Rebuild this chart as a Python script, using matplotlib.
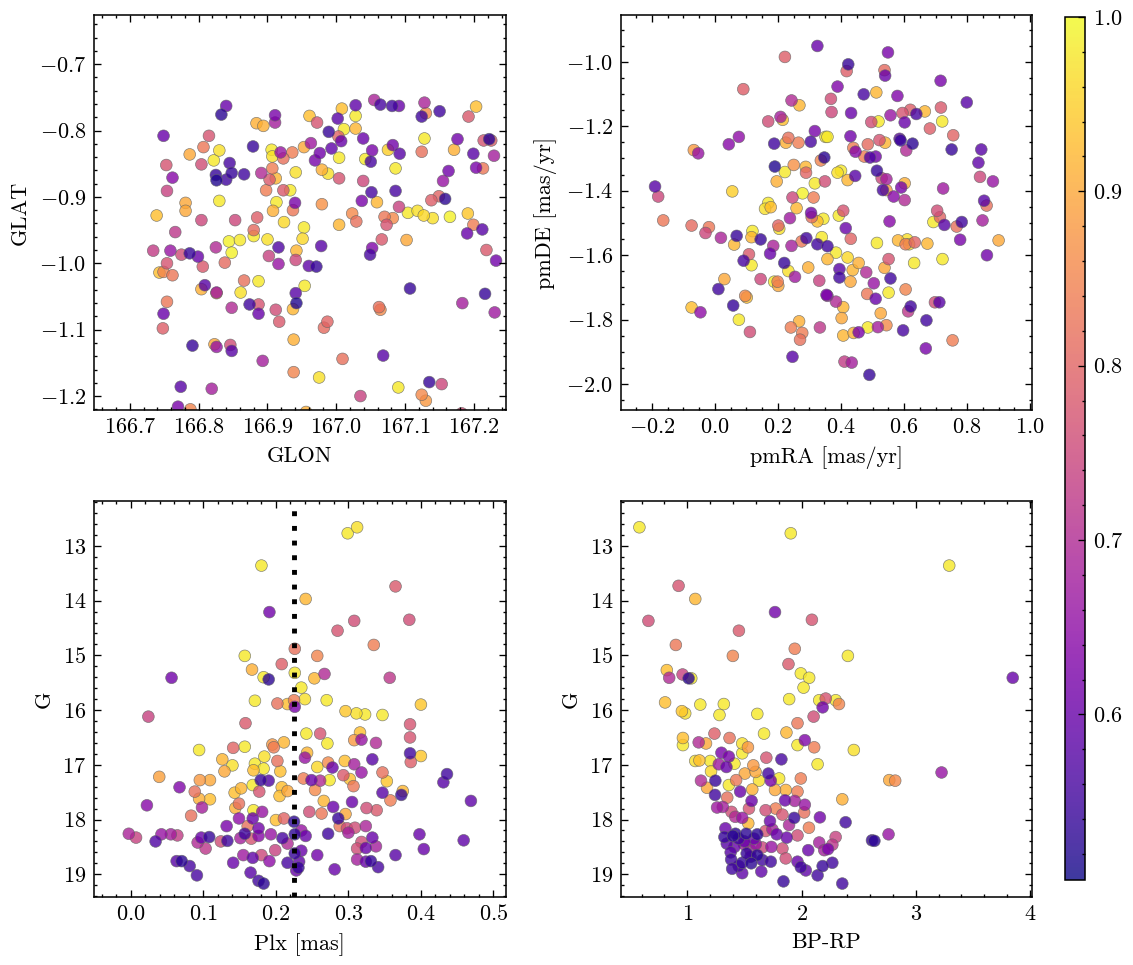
import numpy as np
import matplotlib
matplotlib.use("Agg")
import matplotlib.pyplot as plt
from matplotlib.ticker import MultipleLocator, AutoMinorLocator

plt.rcParams.update({
    "font.family": "serif",
    "font.serif": ["cmr10", "DejaVu Serif"],
    "mathtext.fontset": "cm",
    "axes.formatter.use_mathtext": True,
    "font.size": 10,
    "axes.linewidth": 0.7,
    "xtick.direction": "in", "ytick.direction": "in",
    "xtick.top": True, "ytick.right": True,
    "xtick.major.size": 3, "ytick.major.size": 3,
    "xtick.minor.size": 1.5, "ytick.minor.size": 1.5,
    "xtick.major.width": 0.6, "ytick.major.width": 0.6,
    "xtick.minor.width": 0.6, "ytick.minor.width": 0.6,
    "xtick.minor.visible": True, "ytick.minor.visible": True,
})

# ---------------- panel 1: GLON / GLAT ----------------
glon = [166.840, 166.833, 166.884, 166.894, 166.911, 166.911, 166.749, 166.815, 166.807, 166.787,
        166.830, 166.822, 166.845, 166.879, 166.906, 166.907, 166.919, 166.923, 166.936, 166.804,
        166.753, 166.762, 166.825, 166.826, 166.840, 166.848, 166.866, 166.891, 166.907, 166.903,
        166.912, 166.941, 166.754, 166.898, 166.923, 166.933, 166.781, 166.781, 166.830, 166.913,
        166.940, 166.739, 166.908, 166.937, 166.804, 166.853, 166.885, 166.924, 166.766, 166.880,
        166.880, 166.844, 166.860, 166.900, 166.848, 166.734, 166.759, 166.775, 166.787, 166.799,
        166.825, 166.754, 166.806, 166.838, 166.902, 166.916, 166.916, 166.941, 166.743, 166.749,
        166.762, 166.866, 166.887, 166.809, 166.804, 166.826, 166.826, 166.861, 166.754, 166.848,
        166.874, 166.887, 166.887, 166.912, 166.917, 166.941, 166.942, 166.937, 166.749, 166.748,
        166.791, 166.823, 166.826, 166.846, 166.848, 166.893, 166.938, 166.938, 166.774, 166.819,
        166.770, 166.788,
        166.961, 166.972, 167.008, 167.028, 167.028, 167.002, 167.011, 167.028, 166.989, 167.003,
        167.007, 167.039, 167.055, 167.064, 167.081, 167.091, 167.128, 167.124, 167.130, 167.150,
        167.203, 167.192, 166.953, 166.963, 166.976, 166.969, 166.993, 167.004, 166.979, 166.988,
        167.004, 167.039, 167.042, 167.050, 167.052, 167.075, 167.082, 167.092, 167.086, 167.124,
        167.128, 167.171, 167.176, 167.199, 167.203, 167.213, 167.214, 167.222, 167.225, 167.229,
        167.163, 167.155, 167.051, 167.037, 167.059, 167.086, 167.091, 166.979, 167.023, 167.029,
        167.004, 167.070, 167.082, 167.073, 167.104, 167.118, 167.127, 167.140, 167.165, 167.191,
        167.138, 167.149, 167.158, 167.199, 167.190, 167.212, 167.218, 167.232, 166.953, 166.951,
        166.978, 166.942, 166.960, 166.971, 167.066, 167.052, 167.049, 167.102, 166.954, 167.107,
        167.183, 167.216, 167.230, 167.062, 167.064, 166.987, 166.982, 167.009, 167.068, 166.975,
        167.035, 167.090, 167.135, 167.153, 167.124, 167.130, 166.956, 167.182]
glat = [-0.763, -0.776, -0.789, -0.793, -0.777, -0.788, -0.808, -0.808, -0.825, -0.836,
        -0.830, -0.845, -0.849, -0.824, -0.829, -0.839, -0.833, -0.842, -0.833, -0.851,
        -0.852, -0.871, -0.867, -0.875, -0.874, -0.864, -0.866, -0.864, -0.857, -0.874,
        -0.872, -0.863, -0.891, -0.890, -0.890, -0.890, -0.909, -0.921, -0.906, -0.908,
        -0.909, -0.928, -0.921, -0.920, -0.935, -0.935, -0.931, -0.938, -0.953, -0.950,
        -0.959, -0.967, -0.965, -0.964, -0.984, -0.981, -0.981, -0.987, -0.985, -0.990,
        -0.976, -1.000, -1.005, -0.999, -0.989, -0.976, -1.001, -0.995, -1.014, -1.013,
        -1.018, -1.026, -1.027, -1.033, -1.039, -1.045, -1.044, -1.044, -1.058, -1.067,
        -1.062, -1.062, -1.076, -1.070, -1.088, -1.045, -1.060, -1.069, -1.076, -1.098,
        -1.124, -1.122, -1.126, -1.123, -1.132, -1.147, -1.115, -1.164, -1.186, -1.189,
        -1.216, -1.220,
        -0.778, -0.788, -0.767, -0.762, -0.778, -0.782, -0.798, -0.797, -0.802, -0.809,
        -0.816, -0.812, -0.754, -0.761, -0.763, -0.763, -0.758, -0.779, -0.774, -0.771,
        -0.764, -0.779, -0.825, -0.819, -0.834, -0.845, -0.827, -0.841, -0.859, -0.865,
        -0.872, -0.876, -0.843, -0.847, -0.830, -0.829, -0.822, -0.835, -0.857, -0.832,
        -0.812, -0.829, -0.813, -0.835, -0.856, -0.857, -0.815, -0.813, -0.815, -0.838,
        -0.861, -0.876, -0.893, -0.906, -0.908, -0.891, -0.915, -0.911, -0.925, -0.937,
        -0.942, -0.930, -0.932, -0.942, -0.924, -0.921, -0.928, -0.932, -0.930, -0.925,
        -0.905, -0.899, -0.903, -0.942, -0.955, -0.949, -0.980, -0.996, -0.946, -0.963,
        -0.974, -0.981, -1.004, -1.005, -0.964, -0.977, -0.987, -0.965, -1.034, -1.038,
        -1.060, -1.046, -1.074, -1.066, -1.070, -1.088, -1.097, -1.144, -1.139, -1.172,
        -1.200, -1.187, -1.179, -1.182, -1.198, -1.207, -1.224, -1.226]
prob1 = [0.60, 0.53, 0.91, 0.91, 0.62, 0.68, 0.60, 0.77, 0.83, 0.90,
         0.97, 0.98, 0.56, 0.54, 0.98, 0.97, 0.66, 0.82, 0.84, 0.76,
         0.77, 0.64, 0.54, 0.52, 0.55, 0.54, 0.55, 0.70, 0.84, 0.78,
         0.92, 0.97, 0.74, 0.84, 0.78, 0.98, 0.90, 0.90, 0.98, 0.98,
         0.62, 0.93, 0.91, 0.83, 0.75, 0.75, 0.79, 0.96, 0.72, 0.81,
         0.98, 0.99, 0.98, 0.97, 0.99, 0.73, 0.66, 0.76, 0.54, 0.60,
         0.70, 0.77, 0.78, 0.81, 0.74, 0.57, 0.66, 0.75, 0.93, 0.85,
         0.83, 0.82, 0.98, 0.58, 0.91, 0.90, 0.67, 0.97, 0.83, 0.70,
         0.55, 0.77, 0.60, 0.76, 0.78, 0.58, 0.52, 0.92, 0.60, 0.79,
         0.54, 0.90, 0.66, 0.76, 0.58, 0.68, 0.91, 0.85, 0.58, 0.68,
         0.62, 0.85,
         0.93, 0.77, 0.93, 0.59, 0.98, 0.58, 0.98, 0.92, 0.54, 0.80,
         0.60, 0.60, 0.69, 0.56, 0.55, 0.60, 0.69, 0.55, 0.86, 0.55,
         0.93, 0.78, 0.90, 0.67, 0.61, 0.62, 0.59, 0.98, 0.91, 0.97,
         0.77, 0.75, 0.98, 0.56, 0.62, 0.95, 0.61, 0.58, 0.98, 0.82,
         0.98, 0.91, 0.61, 0.58, 0.62, 0.83, 0.77, 0.53, 0.79, 0.68,
         0.61, 0.66, 0.56, 0.62, 0.92, 0.56, 0.74, 0.87, 0.86, 0.82,
         0.92, 0.83, 0.86, 0.77, 0.98, 0.97, 0.96, 0.97, 0.99, 0.94,
         0.79, 0.80, 0.53, 0.84, 0.60, 0.58, 0.78, 0.61, 0.98, 0.96,
         0.58, 0.92, 0.59, 0.54, 0.78, 0.63, 0.56, 0.90, 0.98, 0.54,
         0.68, 0.54, 0.67, 0.82, 0.86, 0.80, 0.81, 0.82, 0.58, 0.97,
         0.74, 0.98, 0.54, 0.75, 0.86, 0.88, 0.91, 0.76]

# ---------------- panel 2: pmRA / pmDE ----------------
pmra = [0.325, 0.222, 0.090, 0.243, 0.268, 0.169, 0.208, 0.215, 0.076, 0.044,
        -0.067, -0.053, 0.188, 0.233, 0.225, 0.265, 0.304, 0.317, 0.351, 0.190,
        0.222, 0.250, 0.288, 0.289, 0.336, 0.347, -0.190, -0.180, 0.055, 0.196,
        0.317, 0.349, 0.278, 0.246, 0.313, -0.164, -0.074, -0.019, -0.030, 0.019,
        0.169, 0.159, 0.177, 0.259, 0.238, 0.305, 0.307, 0.325, 0.344, 0.201,
        0.204, 0.119, 0.116, 0.145, 0.069, 0.061, 0.185, 0.175, 0.108, 0.091,
        0.116, 0.243, 0.275, 0.290, 0.325, 0.339, 0.220, 0.233, 0.254, 0.296,
        0.331, 0.357, 0.354, 0.145, 0.188, 0.199, 0.201, 0.030, 0.011, 0.101,
        0.096, 0.058, -0.074, -0.046, 0.076, 0.111, 0.241, 0.267, 0.277, 0.270,
        0.333, 0.246,
        0.549, 0.423, 0.418, 0.538, 0.540, 0.716, 0.389, 0.472, 0.512, 0.579,
        0.368, 0.799, 0.370, 0.432, 0.496, 0.519, 0.557, 0.595, 0.620, 0.639,
        0.666, 0.602, 0.717, 0.721, 0.682, 0.756, 0.357, 0.430, 0.522, 0.540,
        0.439, 0.446, 0.485, 0.474, 0.492, 0.510, 0.586, 0.589, 0.607, 0.627,
        0.751, 0.845, 0.836, 0.841, 0.882, 0.724, 0.400, 0.389, 0.421, 0.445,
        0.514, 0.529, 0.544, 0.533, 0.544, 0.567, 0.591, 0.602, 0.602, 0.854,
        0.862, 0.849, 0.705, 0.714, 0.693, 0.728, 0.767, 0.783, 0.778, 0.900,
        0.863, 0.554, 0.407, 0.393, 0.415, 0.431, 0.357, 0.384, 0.421, 0.456,
        0.437, 0.395, 0.395, 0.430, 0.480, 0.514, 0.581, 0.610, 0.616, 0.605,
        0.634, 0.674, 0.632, 0.722, 0.551, 0.538, 0.557, 0.504, 0.551, 0.605,
        0.357, 0.384, 0.483, 0.510, 0.407, 0.402, 0.526, 0.621, 0.613, 0.698,
        0.712, 0.671, 0.407, 0.440, 0.456, 0.485, 0.517, 0.544, 0.597, 0.754,
        0.669, 0.411, 0.434, 0.490]
pmde = [-0.951, -0.985, -1.085, -1.120, -1.135, -1.185, -1.171, -1.180, -1.233, -1.256,
        -1.274, -1.284, -1.254, -1.236, -1.251, -1.251, -1.248, -1.215, -1.233, -1.325,
        -1.342, -1.320, -1.326, -1.344, -1.306, -1.297, -1.387, -1.418, -1.402, -1.371,
        -1.377, -1.371, -1.408, -1.421, -1.421, -1.492, -1.508, -1.513, -1.531, -1.546,
        -1.438, -1.456, -1.451, -1.454, -1.485, -1.469, -1.482, -1.495, -1.487, -1.508,
        -1.518, -1.525, -1.544, -1.551, -1.540, -1.567, -1.571, -1.595, -1.597, -1.617,
        -1.631, -1.571, -1.557, -1.547, -1.566, -1.544, -1.624, -1.649, -1.667, -1.638,
        -1.679, -1.612, -1.723, -1.674, -1.682, -1.682, -1.695, -1.674, -1.705, -1.731,
        -1.726, -1.756, -1.762, -1.777, -1.800, -1.838, -1.824, -1.805, -1.841, -1.862,
        -1.824, -1.915,
        -0.971, -1.008, -1.029, -1.026, -1.043, -1.059, -1.077, -1.101, -1.095, -1.106,
        -1.115, -1.126, -1.156, -1.159, -1.187, -1.185, -1.166, -1.159, -1.149, -1.162,
        -1.154, -1.188, -1.142, -1.185, -1.207, -1.228, -1.233, -1.231, -1.243, -1.251,
        -1.267, -1.279, -1.256, -1.294, -1.297, -1.294, -1.239, -1.244, -1.275, -1.254,
        -1.272, -1.272, -1.313, -1.357, -1.371, -1.393, -1.338, -1.344, -1.367, -1.354,
        -1.338, -1.361, -1.364, -1.398, -1.398, -1.418, -1.390, -1.377, -1.429, -1.431,
        -1.446, -1.492, -1.462, -1.482, -1.497, -1.506, -1.511, -1.497, -1.552, -1.554,
        -1.600, -1.495, -1.462, -1.477, -1.516, -1.549, -1.572, -1.592, -1.607, -1.624,
        -1.646, -1.643, -1.669, -1.682, -1.653, -1.562, -1.554, -1.551, -1.566, -1.566,
        -1.560, -1.564, -1.624, -1.612, -1.612, -1.639, -1.672, -1.687, -1.716, -1.706,
        -1.726, -1.744, -1.720, -1.735, -1.761, -1.795, -1.780, -1.759, -1.774, -1.746,
        -1.746, -1.802, -1.849, -1.841, -1.839, -1.824, -1.823, -1.817, -1.833, -1.864,
        -1.889, -1.930, -1.933, -1.971]
prob2 = [0.60, 0.79, 0.79, 0.70, 0.92, 0.76, 0.68, 0.93, 0.65, 0.64,
         0.88, 0.66, 0.55, 0.82, 0.91, 0.84, 0.56, 0.62, 0.98, 0.52,
         0.98, 0.87, 0.92, 0.80, 0.85, 0.53, 0.58, 0.75, 0.95, 0.91,
         0.98, 0.76, 0.99, 0.75, 0.84, 0.83, 0.81, 0.83, 0.75, 0.69,
         0.98, 0.97, 0.93, 0.92, 0.67, 0.61, 0.82, 0.93, 0.98, 0.80,
         0.97, 0.98, 0.92, 0.54, 0.54, 0.92, 0.69, 0.60, 0.78, 0.56,
         0.98, 0.68, 0.83, 0.55, 0.55, 0.98, 0.54, 0.97, 0.67, 0.91,
         0.74, 0.92, 0.62, 0.75, 0.98, 0.84, 0.90, 0.90, 0.55, 0.93,
         0.86, 0.54, 0.93, 0.65, 0.98, 0.76, 0.84, 0.91, 0.84, 0.82,
         0.72, 0.58,
         0.62, 0.54, 0.79, 0.81, 0.60, 0.62, 0.63, 0.56, 0.92, 0.63,
         0.76, 0.58, 0.75, 0.60, 0.76, 0.98, 0.66, 0.77, 0.79, 0.56,
         0.92, 0.60, 0.78, 0.98, 0.79, 0.80, 0.98, 0.61, 0.77, 0.92,
         0.84, 0.64, 0.81, 0.84, 0.57, 0.61, 0.59, 0.54, 0.70, 0.53,
         0.54, 0.58, 0.59, 0.75, 0.66, 0.67, 0.98, 0.97, 0.92, 0.58,
         0.54, 0.75, 0.68, 0.56, 0.88, 0.64, 0.62, 0.91, 0.70, 0.58,
         0.82, 0.68, 0.76, 0.80, 0.98, 0.58, 0.82, 0.55, 0.62, 0.90,
         0.61, 0.64, 0.77, 0.98, 0.60, 0.80, 0.55, 0.98, 0.96, 0.91,
         0.92, 0.58, 0.55, 0.90, 0.70, 0.98, 0.92, 0.97, 0.96, 0.84,
         0.80, 0.92, 0.98, 0.98, 0.77, 0.90, 0.55, 0.66, 0.98, 0.85,
         0.66, 0.70, 0.83, 0.60, 0.92, 0.90, 0.90, 0.55, 0.72, 0.76,
         0.58, 0.55, 0.92, 0.91, 0.62, 0.98, 0.68, 0.86, 0.56, 0.84,
         0.62, 0.73, 0.68, 0.54]

# ---------------- panel 3: Plx / G ----------------
plx = [0.180, 0.191, 0.157, 0.167, 0.183, 0.190, 0.171, 0.056, 0.024, 0.158,
       0.202, 0.216, 0.225, 0.208, 0.226, 0.226, 0.226, 0.094, 0.141, 0.157,
       0.195, 0.197, 0.211, 0.184, 0.171, 0.169, 0.183, 0.202, 0.206, 0.126,
       0.129, 0.140, 0.039, 0.067, 0.095, 0.109, 0.088, 0.094, 0.109, 0.143,
       0.152, 0.168, 0.179, 0.190, 0.177, 0.208, 0.216, 0.205, 0.149, 0.144,
       0.098, 0.083, 0.022, 0.169, 0.181, 0.149, 0.168, 0.176, 0.161, 0.200,
       0.211, 0.225, 0.132, -0.003, 0.007, 0.034, 0.042, 0.055, 0.064, 0.097,
       0.108, 0.092, 0.103, 0.124, 0.133, 0.151, 0.157, 0.166, 0.176, 0.193,
       0.209, 0.226, 0.199, 0.216, 0.063, 0.070, 0.081, 0.091, 0.141, 0.155,
       0.168, 0.180, 0.191, 0.165, 0.176, 0.183, 0.216, 0.228, 0.226,
       0.299, 0.312, 0.365, 0.241, 0.308, 0.285, 0.384, 0.335, 0.257, 0.267,
       0.253, 0.235, 0.240, 0.270, 0.357, 0.296, 0.311, 0.323, 0.347, 0.400,
       0.385, 0.385, 0.242, 0.261, 0.271, 0.316, 0.308, 0.318, 0.338, 0.243,
       0.240, 0.257, 0.272, 0.278, 0.295, 0.308, 0.318, 0.293, 0.302, 0.307,
       0.333, 0.347, 0.353, 0.385, 0.386, 0.400, 0.238, 0.249, 0.261, 0.274,
       0.254, 0.266, 0.279, 0.263, 0.246, 0.305, 0.286, 0.296, 0.288, 0.298,
       0.309, 0.300, 0.324, 0.272, 0.325, 0.339, 0.347, 0.358, 0.375, 0.373,
       0.431, 0.436, 0.469, 0.398, 0.459, 0.404, 0.333, 0.338, 0.318, 0.324,
       0.312, 0.312, 0.324, 0.331, 0.341, 0.365, 0.281, 0.257, 0.235, 0.241,
       0.235, 0.231, 0.232]
gmag3 = [13.36, 14.21, 15.01, 15.26, 15.40, 15.44, 15.83, 15.41, 16.12, 16.24,
         15.88, 15.89, 15.82, 15.16, 14.88, 15.32, 15.94, 16.73, 16.69, 16.67,
         16.63, 16.68, 16.59, 16.85, 16.98, 17.10, 17.07, 16.93, 17.12, 16.90,
         17.12, 17.01, 17.22, 17.41, 17.28, 17.28, 17.49, 17.62, 17.63, 17.51,
         17.43, 17.37, 17.28, 17.29, 17.49, 17.41, 17.48, 17.57, 17.71, 17.79,
         17.78, 17.93, 17.74, 17.83, 17.86, 17.98, 17.98, 18.16, 18.12, 18.01,
         17.98, 18.04, 18.12, 18.26, 18.33, 18.40, 18.27, 18.27, 18.29, 18.33,
         18.32, 18.42, 18.53, 18.40, 18.39, 18.34, 18.26, 18.35, 18.30, 18.27,
         18.34, 18.27, 18.56, 18.44, 18.76, 18.76, 18.85, 19.02, 18.79, 18.65,
         18.70, 18.65, 18.76, 18.97, 19.12, 19.17, 18.79, 18.93, 18.62,
         12.77, 12.66, 13.74, 13.97, 14.37, 14.55, 14.35, 14.81, 15.01, 15.34,
         15.42, 15.59, 15.80, 15.82, 15.41, 16.02, 16.06, 16.08, 16.09, 15.90,
         16.26, 16.50, 16.43, 16.43, 16.61, 16.41, 16.55, 16.54, 16.60, 16.78,
         16.87, 17.04, 16.96, 17.05, 16.93, 16.99, 17.14, 17.19, 17.26, 17.39,
         16.90, 17.14, 17.30, 16.79, 16.95, 16.84, 17.25, 17.28, 17.29, 17.28,
         17.46, 17.66, 17.77, 17.89, 17.86, 17.68, 17.98, 17.90, 18.12, 18.16,
         18.15, 18.24, 18.12, 18.26, 17.79, 17.83, 17.51, 17.65, 17.48, 17.55,
         17.32, 17.17, 17.66, 18.27, 18.38, 18.54, 18.33, 18.49, 18.41, 18.52,
         18.53, 18.73, 18.77, 18.76, 18.87, 18.65, 18.91, 18.65, 18.57, 18.30,
         18.20, 18.88, 18.77]
prob3 = [0.98, 0.61, 0.98, 0.91, 0.98, 0.53, 0.98, 0.61, 0.74, 0.78,
         0.82, 0.93, 0.84, 0.79, 0.82, 0.98, 0.62, 0.98, 0.80, 0.98,
         0.88, 0.84, 0.92, 0.97, 0.98, 0.93, 0.98, 0.82, 0.93, 0.92,
         0.90, 0.97, 0.89, 0.63, 0.88, 0.90, 0.82, 0.91, 0.93, 0.93,
         0.92, 0.98, 0.54, 0.57, 0.77, 0.93, 0.90, 0.93, 0.82, 0.91,
         0.68, 0.82, 0.64, 0.98, 0.66, 0.65, 0.60, 0.61, 0.82, 0.93,
         0.80, 0.53, 0.62, 0.69, 0.74, 0.57, 0.66, 0.68, 0.73, 0.60,
         0.54, 0.70, 0.72, 0.76, 0.55, 0.68, 0.55, 0.77, 0.64, 0.66,
         0.56, 0.53, 0.74, 0.70, 0.58, 0.53, 0.56, 0.56, 0.60, 0.67,
         0.59, 0.75, 0.65, 0.58, 0.55, 0.53, 0.56, 0.60, 0.54,
         0.98, 0.97, 0.78, 0.92, 0.76, 0.77, 0.76, 0.84, 0.85, 0.70,
         0.92, 0.98, 0.97, 0.98, 0.72, 0.94, 0.97, 0.98, 0.98, 0.94,
         0.77, 0.77, 0.98, 0.77, 0.98, 0.93, 0.88, 0.66, 0.70, 0.92,
         0.66, 0.96, 0.86, 0.60, 0.93, 0.68, 0.66, 0.78, 0.93, 0.83,
         0.58, 0.82, 0.94, 0.55, 0.79, 0.94, 0.84, 0.60, 0.70, 0.98,
         0.86, 0.92, 0.60, 0.83, 0.76, 0.60, 0.54, 0.90, 0.83, 0.76,
         0.76, 0.68, 0.69, 0.55, 0.76, 0.78, 0.58, 0.84, 0.92, 0.54,
         0.58, 0.55, 0.59, 0.60, 0.59, 0.60, 0.60, 0.68, 0.76, 0.60,
         0.76, 0.68, 0.60, 0.54, 0.56, 0.58, 0.60, 0.61, 0.60, 0.60,
         0.66, 0.54, 0.59]
plx_cut = 0.2252

# ---------------- panel 4: BP-RP / G ----------------
bprp = [0.581, 1.906, 0.924, 1.070, 0.660, 1.768, 2.091, 1.452, 0.900, 1.399,
        1.941, 1.886, 0.821, 0.842, 0.959, 1.012, 1.035, 1.994, 2.067, 2.018,
        0.806, 0.953, 0.982, 1.114, 1.320, 1.282, 1.613, 1.892, 2.155, 2.185,
        2.106, 1.965, 0.962, 0.962, 1.100, 1.164, 1.238, 1.370, 1.481, 1.481,
        1.531, 1.672, 1.868, 2.029, 1.965, 2.111, 2.141, 1.070, 1.106, 1.202,
        1.299, 1.364, 1.343, 1.276, 1.208, 1.120, 1.246, 1.173, 1.243, 1.364,
        1.428, 1.463, 1.413, 1.504, 1.578, 1.598, 1.628, 1.692, 1.824, 1.710,
        1.731, 1.804, 1.768, 1.569, 1.862, 1.965, 1.994, 1.856, 1.941, 2.029,
        2.023, 1.936, 2.065, 2.161, 1.311, 1.261, 1.387, 1.481, 1.540, 1.534,
        1.563, 1.686, 1.724, 1.774, 1.833, 1.891, 1.745, 1.334, 1.325, 1.422,
        1.516, 1.613, 1.584, 1.686, 1.783, 1.871, 1.965, 1.346, 1.413, 1.496,
        1.554, 1.657, 1.736, 1.833, 2.059, 2.155, 2.199, 1.384, 1.481, 1.554,
        1.613, 1.657, 1.731, 1.862, 1.965, 1.994, 1.393, 1.481, 1.648, 1.842,
        2.038, 2.141, 2.185,
        1.400, 1.450, 1.500, 1.380, 1.520, 1.600, 1.450, 1.560, 1.420, 1.350,
        3.293, 2.406, 3.849, 2.212, 2.299, 2.328, 2.458, 2.768, 2.820, 3.226,
        2.357, 2.386, 2.299, 2.270, 2.232, 2.617, 2.638, 2.762, 2.270, 2.357]
gmag4 = [12.66, 12.77, 13.73, 13.97, 14.37, 14.21, 14.35, 14.55, 14.81, 15.01,
         14.88, 15.16, 15.27, 15.41, 15.35, 15.42, 15.42, 15.33, 15.41, 15.59,
         15.86, 16.02, 16.06, 15.90, 15.89, 16.09, 16.07, 15.80, 15.82, 15.95,
         16.12, 16.24, 16.51, 16.64, 16.59, 16.61, 16.43, 16.51, 16.61, 16.79,
         16.68, 16.43, 16.41, 16.55, 16.64, 16.68, 16.99, 16.93, 16.92, 16.93,
         16.78, 16.85, 17.04, 16.99, 17.12, 17.29, 17.29, 17.42, 17.55, 17.37,
         17.28, 17.49, 16.98, 17.16, 17.01, 17.13, 17.29, 16.87, 16.90, 17.16,
         17.29, 17.25, 17.46, 17.45, 17.46, 17.49, 17.25, 17.65, 17.66, 17.73,
         17.87, 17.97, 18.15, 17.96, 17.77, 17.78, 17.86, 17.97, 17.80, 18.07,
         17.66, 17.83, 18.03, 17.80, 17.91, 18.10, 18.18, 18.16, 18.32, 18.26,
         18.26, 18.27, 18.35, 18.21, 18.27, 18.33, 18.29, 18.44, 18.50, 18.45,
         18.56, 18.51, 18.50, 18.53, 18.56, 18.42, 18.56, 18.73, 18.79, 18.68,
         18.65, 18.74, 18.77, 18.71, 18.77, 18.87, 18.90, 18.98, 18.95, 19.13,
         18.93, 19.02, 18.85,
         18.30, 18.35, 18.40, 18.60, 18.62, 18.45, 18.85, 18.80, 17.95, 17.60,
         13.36, 15.01, 15.41, 15.79, 15.82, 15.89, 16.73, 17.28, 17.29, 17.14,
         17.63, 18.05, 18.32, 18.46, 18.54, 18.38, 18.39, 18.27, 18.79, 19.17]
prob4 = [0.98, 0.98, 0.77, 0.92, 0.76, 0.61, 0.77, 0.78, 0.83, 0.85,
         0.84, 0.78, 0.93, 0.70, 0.74, 0.53, 0.98, 0.98, 0.98, 0.98,
         0.93, 0.94, 0.97, 0.98, 0.98, 0.98, 0.98, 0.98, 0.98, 0.61,
         0.76, 0.83, 0.93, 0.98, 0.70, 0.90, 0.79, 0.82, 0.97, 0.98,
         0.88, 0.98, 0.92, 0.63, 0.98, 0.84, 0.98, 0.97, 0.93, 0.98,
         0.62, 0.62, 0.60, 0.67, 0.96, 0.70, 0.54, 0.90, 0.55, 0.98,
         0.83, 0.60, 0.98, 0.90, 0.88, 0.90, 0.97, 0.77, 0.56, 0.55,
         0.62, 0.98, 0.90, 0.91, 0.91, 0.84, 0.84, 0.60, 0.68, 0.66,
         0.82, 0.54, 0.84, 0.61, 0.68, 0.67, 0.76, 0.66, 0.77, 0.92,
         0.60, 0.76, 0.60, 0.84, 0.77, 0.69, 0.68, 0.60, 0.54, 0.53,
         0.53, 0.53, 0.60, 0.77, 0.60, 0.60, 0.76, 0.58, 0.60, 0.67,
         0.68, 0.75, 0.66, 0.76, 0.60, 0.68, 0.68, 0.55, 0.54, 0.60,
         0.53, 0.55, 0.55, 0.76, 0.60, 0.55, 0.55, 0.59, 0.59, 0.54,
         0.59, 0.55, 0.54,
         0.53, 0.55, 0.60, 0.58, 0.54, 0.66, 0.56, 0.53, 0.70, 0.82,
         0.98, 0.98, 0.60, 0.77, 0.98, 0.85, 0.97, 0.90, 0.86, 0.66,
         0.91, 0.55, 0.74, 0.72, 0.62, 0.54, 0.53, 0.66, 0.55, 0.55]

prob_min, prob_max = 0.505, 1.0

W, H = 1133, 965
fig = plt.figure(figsize=(W / 160, H / 160), dpi=160)

def rect(l, t, r, b):
    return [l / W, (H - b) / H, (r - l) / W, (b - t) / H]

ax1 = fig.add_axes(rect(94, 15, 505.7, 410))
ax2 = fig.add_axes(rect(621, 15, 1031.7, 410))
ax3 = fig.add_axes(rect(94, 501, 505.7, 896.7))
ax4 = fig.add_axes(rect(621, 501, 1031.7, 896.7))
cax = fig.add_axes(rect(1065, 17, 1085, 880))

sc_kw = dict(s=28, cmap="plasma", vmin=prob_min, vmax=prob_max, alpha=0.8,
             edgecolors="0.4", linewidths=0.3)

def draw(ax, x, y, p):
    x, y, p = np.asarray(x), np.asarray(y), np.asarray(p)
    o = np.argsort(-p, kind="stable")
    return ax.scatter(x[o], y[o], c=p[o], **sc_kw)

sc = draw(ax1, glon, glat, prob1)
draw(ax2, pmra, pmde, prob2)
draw(ax3, plx, gmag3, prob3)
draw(ax4, bprp, gmag4, prob4)
ax3.axvline(plx_cut, color="k", lw=2.2, linestyle=(0, (1, 2)), zorder=3)

ax1.set_xlim(166.648, 167.246); ax1.set_ylim(-1.221, -0.626)
ax2.set_xlim(-0.298, 1.005); ax2.set_ylim(-2.08, -0.855)
ax3.set_xlim(-0.051, 0.517); ax3.set_ylim(19.41, 12.18)
ax4.set_xlim(0.42, 4.015); ax4.set_ylim(19.41, 12.18)

ax1.xaxis.set_major_locator(MultipleLocator(0.1)); ax1.yaxis.set_major_locator(MultipleLocator(0.1))
ax2.xaxis.set_major_locator(MultipleLocator(0.2)); ax2.yaxis.set_major_locator(MultipleLocator(0.2))
ax3.xaxis.set_major_locator(MultipleLocator(0.1)); ax3.yaxis.set_major_locator(MultipleLocator(1))
ax4.xaxis.set_major_locator(MultipleLocator(1)); ax4.yaxis.set_major_locator(MultipleLocator(1))
for ax in (ax1, ax2, ax3, ax4):
    ax.xaxis.set_minor_locator(AutoMinorLocator())
    ax.yaxis.set_minor_locator(AutoMinorLocator())
    ax.ticklabel_format(useOffset=False)

ax1.set_xlabel("GLON"); ax1.set_ylabel("GLAT")
ax2.set_xlabel("pmRA [mas/yr]"); ax2.set_ylabel("pmDE [mas/yr]")
ax3.set_xlabel("Plx [mas]"); ax3.set_ylabel("G")
ax4.set_xlabel("BP-RP"); ax4.set_ylabel("G")

cb = fig.colorbar(sc, cax=cax)
cb.set_ticks([0.6, 0.7, 0.8, 0.9, 1.0])
cb.ax.yaxis.set_minor_locator(MultipleLocator(0.02))
cb.ax.tick_params(which="both", direction="in")
cb.outline.set_linewidth(0.7)

fig.savefig("out.png", dpi=160)
